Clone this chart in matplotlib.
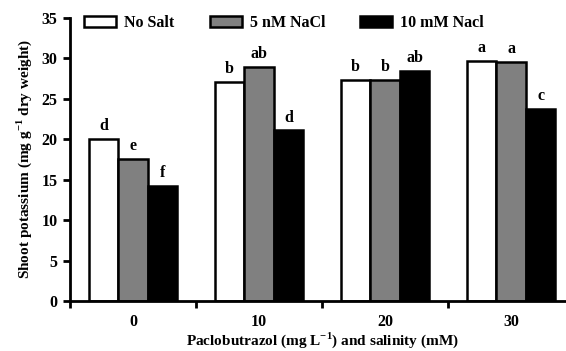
import matplotlib
matplotlib.use('Agg')
from matplotlib import pyplot as pl
import numpy as np

# Shoot potassium (mg g-1 dry weight) per paclobutrazol dose
doses = ['0', '10', '20', '30']
no_salt = [20.0, 27.1, 27.3, 29.7]
nacl_5 = [17.6, 29.0, 27.3, 29.6]
nacl_10 = [14.2, 21.1, 28.5, 23.8]

letters_no_salt = ['d', 'b', 'b', 'a']
letters_5 = ['e', 'ab', 'b', 'a']
letters_10 = ['f', 'd', 'ab', 'c']

series_names = ['No Salt', '5 nM NaCl', '10 mM Nacl']

pl.rcParams['font.family'] = ['Liberation Serif', 'DejaVu Serif']
pl.rcParams['font.weight'] = 'bold'
pl.rcParams['mathtext.fontset'] = 'custom'
pl.rcParams['mathtext.rm'] = 'Liberation Serif:bold'
pl.rcParams['mathtext.bf'] = 'Liberation Serif:bold'

fig = pl.figure(figsize=(5.66, 3.51), dpi=100)
ax = fig.add_axes([70/566, 50/351, 504/566, 283/351])

x = np.arange(len(doses))
w = 0.235
colors = ['white', '#808080', 'black']
series = [no_salt, nacl_5, nacl_10]
letters = [letters_no_salt, letters_5, letters_10]

for i, (vals, c, name, lab) in enumerate(zip(series, colors, series_names, letters)):
    pos = x + (i - 1)*w
    ax.bar(pos, vals, width=w, color=c, edgecolor='black', linewidth=1.8,
           label=name)
    for px, v, t in zip(pos, vals, lab):
        ax.text(px, v + 0.6, t, ha='center', va='bottom', fontsize=11.5,
                fontweight='bold')

ax.set_xlim(-0.5, 3.5)
ax.set_ylim(0, 35)
ax.set_yticks(np.arange(0, 36, 5))

ax.set_xticks([-0.5, 0.5, 1.5, 2.5, 3.5])
ax.set_xticklabels([])
ax.set_xticks(x, minor=True)
ax.set_xticklabels(doses, minor=True)
ax.tick_params(axis='x', which='minor', length=0, pad=9, labelsize=11.5)
ax.tick_params(axis='x', which='major', direction='out', length=5, width=2)
ax.tick_params(axis='y', direction='out', length=5, width=2, labelsize=11.5,
               pad=4)

for s in ['top', 'right']:
    ax.spines[s].set_visible(False)
for s in ['left', 'bottom']:
    ax.spines[s].set_linewidth(2)

ax.set_ylabel(r'Shoot potassium (mg g$^{-1}$ dry weight)',
              fontsize=11, fontweight='bold', labelpad=5)
ax.set_xlabel(r'Paclobutrazol (mg L$^{-1}$) and salinity (mM)',
              fontsize=11, fontweight='bold')
ax.xaxis.label.set_va('bottom')
ax.xaxis.set_label_coords(0.5, -49/283)

ax.legend(loc='upper left', bbox_to_anchor=(0.0, 1.06), ncol=3,
          frameon=False, fontsize=11.5, handlelength=2.0, handleheight=0.7,
          columnspacing=2.2, handletextpad=0.5)

pl.savefig('out.png', dpi=100)
pl.close('all')
